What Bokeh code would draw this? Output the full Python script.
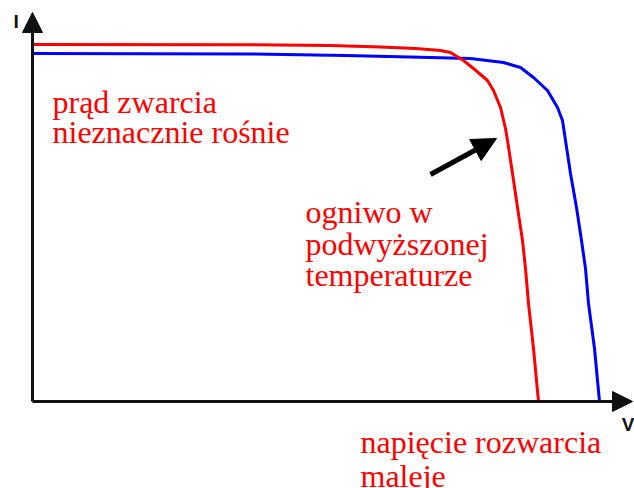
from bokeh.plotting import figure
from bokeh.models import Range1d, Arrow, NormalHead
from bokeh.core.properties import value
from bokeh.embed import file_html
from bokeh.resources import INLINE

# I-V curves (V in volts, I in amps)
v_hot = [0, 0.218, 0.298, 0.348, 0.383, 0.408, 0.418, 0.431, 0.441, 0.455, 0.461, 0.468,
         0.473, 0.475, 0.480, 0.485, 0.490, 0.493, 0.496, 0.501, 0.504, 0.506]
i_hot = [3.57, 3.567, 3.56, 3.545, 3.53, 3.51, 3.49, 3.41, 3.33, 3.21, 3.11, 2.94,
         2.73, 2.61, 2.28, 1.94, 1.61, 1.33, 0.98, 0.53, 0.21, 0.0]
v_ref = [0, 0.218, 0.313, 0.398, 0.438, 0.471, 0.488, 0.501, 0.515, 0.525, 0.530,
         0.533, 0.538, 0.544, 0.549, 0.553, 0.556, 0.562, 0.565, 0.567]
i_ref = [3.48, 3.475, 3.46, 3.44, 3.43, 3.39, 3.34, 3.24, 3.11, 2.94, 2.81,
         2.61, 2.28, 1.94, 1.61, 1.33, 0.98, 0.53, 0.21, 0.0]

label_lines = ["prąd zwarcia", "nieznacznie rośnie",
               "ogniwo w", "podwyższonej", "temperaturze",
               "napięcie rozwarcia", "maleje"]
label_x = [0.020, 0.020, 0.273, 0.273, 0.273, 0.328, 0.328]
label_y = [3.00, 2.70, 1.90, 1.58, 1.27, -0.40, -0.74]

p = figure(width=634, height=488, output_backend="svg", toolbar_location=None,
           x_range=Range1d(-0.032, 0.602), y_range=Range1d(-0.87, 4.01),
           min_border=0, outline_line_color=None)
p.axis.visible = False
p.grid.visible = False

# axes with arrow heads
p.add_layout(Arrow(x_start=0, y_start=0, x_end=0, y_end=3.89, line_width=3, line_color="#111111",
                   end=NormalHead(size=20, line_color="#111111", fill_color="#111111")))
p.add_layout(Arrow(x_start=0, y_start=0, x_end=0.600, y_end=0, line_width=3, line_color="#111111",
                   end=NormalHead(size=20, line_color="#111111", fill_color="#111111")))

p.line(v_ref, i_ref, line_color="#0000ff", line_width=3)
p.line(v_hot, i_hot, line_color="#ff0000", line_width=3)

p.text(x=label_x, y=label_y, text=label_lines, text_color="#ff0000",
       text_font=value("Liberation Serif"), text_font_size="32px",
       text_baseline="alphabetic", text_align="left")

p.text(x=[-0.019], y=[3.80], text=["I"], text_color="#111111",
       text_font=value("Liberation Sans"), text_font_size="19px", text_font_style="bold",
       text_baseline="alphabetic", text_align="left")
p.text(x=[0.602], y=[-0.23], text=["V"], text_color="#111111",
       text_font=value("Liberation Sans"), text_font_size="19px", text_font_style="bold",
       text_baseline="alphabetic", text_align="right")

p.add_layout(Arrow(x_start=0.398, y_start=2.27, x_end=0.464, y_end=2.63, line_width=5,
                   line_color="black",
                   end=NormalHead(size=24, line_color="black", fill_color="black")))

open("out.html", "w").write(file_html(p, INLINE))
